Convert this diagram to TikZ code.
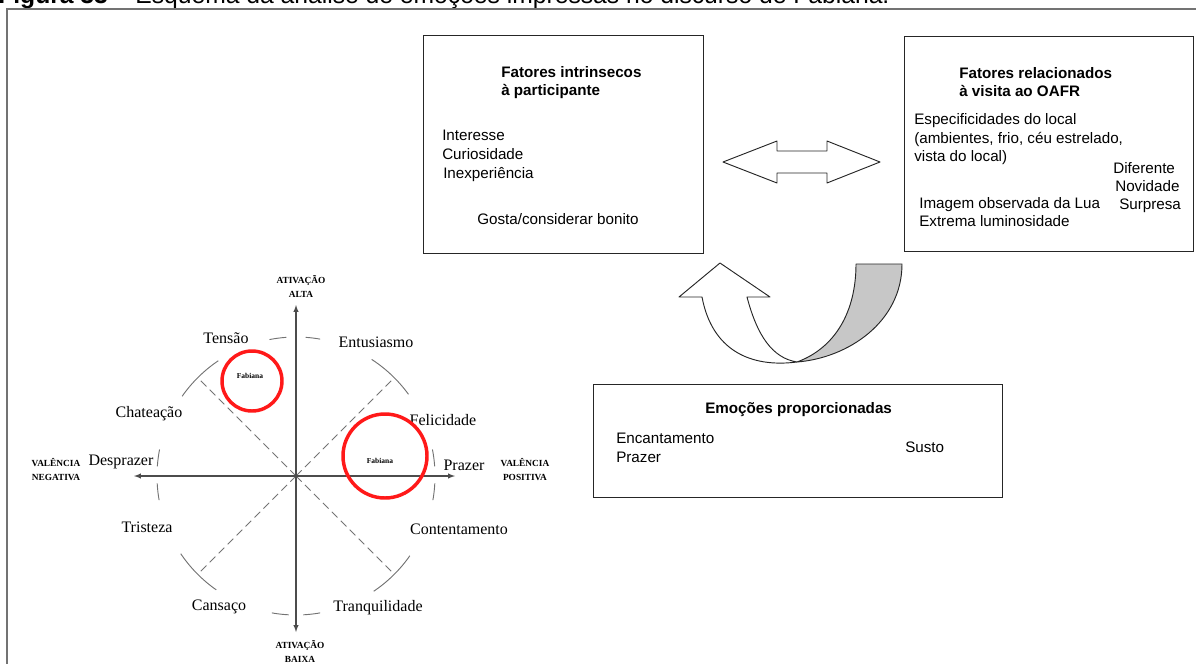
\documentclass[tikz,border=0pt]{standalone}
\usepackage{fontspec}
\setmainfont{Liberation Serif}
\setsansfont{Liberation Sans}

\tikzset{
  frame/.style={draw=black!55, line width=1.5pt},
  box/.style={draw=black!85, line width=0.8pt, inner sep=0pt},
  txt/.style={anchor=base west, inner sep=0pt, font=\sffamily\fontsize{11.4}{13}\selectfont},
  txtbold/.style={txt, font=\sffamily\bfseries\fontsize{11.4}{13}\selectfont},
  blockarrow/.style={draw=black!85, line width=0.7pt, line join=round},
  emo/.style={inner sep=0pt, font=\rmfamily\fontsize{12}{14}\selectfont},
  axlabel/.style={inner sep=0pt, align=center, font=\rmfamily\bfseries\fontsize{7}{10.5}\selectfont},
  axline/.style={draw=black!70, line width=0.8pt, latex-latex},
  ring/.style={draw=black!55, line width=0.7pt},
  diag/.style={draw=black!55, line width=0.7pt, dash pattern=on 6pt off 3.5pt},
  hilite/.style={draw=red!90, line width=2.6pt},
  who/.style={inner sep=0pt, font=\rmfamily\bfseries\fontsize{5.6}{6}\selectfont}
}

\begin{document}
\begin{tikzpicture}[x=0.75pt, y=-0.75pt]
  \useasboundingbox (0,0) rectangle (1196,664);

  % caption and frame
  \node[anchor=base west, inner sep=0pt, font=\sffamily\fontsize{18.5}{22}\selectfont] (caption) at (-2,3)
    {\textbf{Figura 33} – Esquema da análise de emoções impressas no discurso de Fabiana.};
  \draw[frame] (1200,9) -- (7,9) -- (7,670);

  % boxes
  \node[box, anchor=north west, minimum width=210pt, minimum height=163.5pt] (intr) at (423,35) {};
  \node[box, anchor=north west, minimum width=216.75pt, minimum height=161.25pt] (visit) at (904,36) {};
  \node[box, anchor=north west, minimum width=306.75pt, minimum height=84.75pt] (emoc) at (593,384) {};

  % factors of the participant
  \node[txtbold] (intrT1) at (501,77) {Fatores intrinsecos};
  \node[txtbold] (intrT2) at (501,95) {à participante};
  \node[txt] (interesse) at (442,140) {Interesse};
  \node[txt] (curios) at (442,159) {Curiosidade};
  \node[txt] (inexp) at (443,178) {Inexperiência};
  \node[txt] (gosta) at (477,224) {Gosta/considerar bonito};

  % factors of the visit
  \node[txtbold] (visitT1) at (959,78) {Fatores relacionados};
  \node[txtbold] (visitT2) at (959,96) {à visita ao OAFR};
  \node[txt] (espec1) at (914,124) {Especificidades do local};
  \node[txt] (espec2) at (914,143) {(ambientes, frio, céu estrelado,};
  \node[txt] (espec3) at (914,161) {vista do local)};
  \node[txt] (difer) at (1113,173) {Diferente};
  \node[txt] (novid) at (1115,191) {Novidade};
  \node[txt] (surpr) at (1119,209) {Surpresa};
  \node[txt] (imagem) at (919,208) {Imagem observada da Lua};
  \node[txt] (lumin) at (919,226) {Extrema luminosidade};

  % emotions
  \node[txtbold] (emocT) at (705,413) {Emoções proporcionadas};
  \node[txt] (encant) at (616,443) {Encantamento};
  \node[txt] (prazerB) at (616,462) {Prazer};
  \node[txt] (susto) at (905,452) {Susto};

  % double block arrow
  \draw[blockarrow, fill=white] (723,162) -- (777,141) -- (777,151) -- (827,151) -- (827,141)
    -- (880,162) -- (827,183) -- (827,173) -- (777,173) -- (777,183) -- cycle;

  % U-turn arrow
  \draw[blockarrow, fill=black!22] (856,264) .. controls (856,312) and (835,348) .. (797,362)
    .. controls (848,358) and (902,322) .. (902,264) -- cycle;
  \draw[blockarrow, fill=white] (702,297) -- (679,297) -- (720,263) -- (770,297) -- (747,297)
    .. controls (757,335) and (772,358) .. (797,362)
    .. controls (750,368) and (712,350) .. (702,297) -- cycle;

  % circumplex
  \coordinate (o) at (296,476);
  \begin{scope}[shift={(o)}, y=0.75pt]
    \coordinate (top) at (0,171);
    \coordinate (bot) at (0,-156);
    \coordinate (lft) at (-162,0);
    \coordinate (rgt) at (159,0);

    \foreach \a/\b in {36/57, 124/145, 214/235, 304/325,
                       80/86, 94/101, 4/11, 350/357,
                       169/176, 183/190, 260/267, 273/280}
      \draw[ring] (\a:139) arc[start angle=\a, end angle=\b, radius=139];
    \foreach \a in {45,135,225,315}
      \draw[diag] (o) -- (\a:139);

    \draw[axline] (lft) -- (rgt);
    \draw[axline] (bot) -- (top);

    \node[emo] (tensao) at (-70,138) {Tensão};
    \node[emo] (entus) at (80,134) {Entusiasmo};
    \node[emo] (chat) at (-147,62) {Chateação};
    \node[emo] (felic) at (147,56) {Felicidade};
    \node[emo] (despr) at (-175,14) {Desprazer};
    \node[emo] (prazer) at (168,11) {Prazer};
    \node[emo] (trist) at (-149,-51) {Tristeza};
    \node[emo] (content) at (163,-53) {Contentamento};
    \node[emo] (cansaco) at (-77,-131) {Cansaço};
    \node[emo] (tranq) at (82,-132) {Tranquilidade};

    \node[axlabel] (altaL) at (5,190) {ATIVAÇÃO\\ALTA};
    \node[axlabel] (baixaL) at (4,-175) {ATIVAÇÃO\\BAIXA};
    \node[axlabel] (negL) at (-240,6) {VALÊNCIA\\NEGATIVA};
    \node[axlabel] (posL) at (229,6) {VALÊNCIA\\POSITIVA};

    \draw[hilite] (-44,95) circle[radius=30];
    \draw[hilite] (89,20) circle[radius=42];
    \node[who] (fab1) at (-46,100) {Fabiana};
    \node[who] (fab2) at (84,15) {Fabiana};
  \end{scope}
\end{tikzpicture}
\end{document}
